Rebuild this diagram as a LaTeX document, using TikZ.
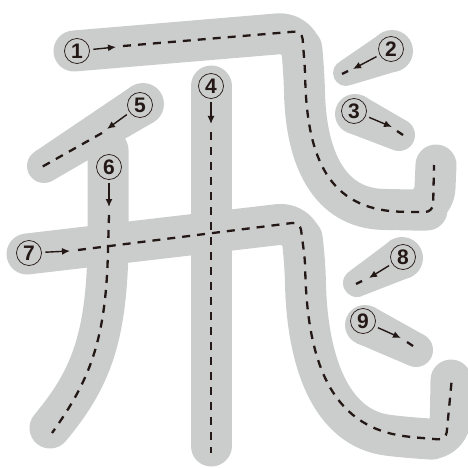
\documentclass[tikz,border=0pt]{standalone}
\usepackage{fontspec}
\setsansfont{Liberation Sans}
\usetikzlibrary{calc,arrows.meta}
\definecolor{strokegray}{RGB}{203, 204, 204}
\definecolor{inkdark}{RGB}{35, 24, 21}
\begin{document}
\begin{tikzpicture}[x=1pt, y=-1pt, line join=round,
        band/.style={draw=strokegray, line width=41pt, line cap=round, line join=round},
        guide/.style={draw=inkdark, line width=2.3pt, dash pattern=on 8pt off 7pt},
        num/.style={circle, draw=inkdark, line width=0.7pt, minimum size=25pt, inner sep=0pt,
            text=inkdark, font=\sffamily\bfseries\fontsize{21}{21}\selectfont},
        pointer/.style={draw=inkdark, line width=1.4pt, shorten <=3.5pt, -{Latex[length=8pt, width=7pt]}}]

    \useasboundingbox (0,0) rectangle (467,468);

    % --- szerokie pasy kresek (tło) ---
    \draw[band, rounded corners=22pt] (74,51) -- (300,32) -- (304,70)
        .. controls (306,160) and (330,208) .. (405,210) -- (434,210) -- (436,165);
    \draw[band] (211,86) -- (211,446);
    \draw[band] (108,150) -- (108,250) .. controls (106,340) and (90,380) .. (50,428);
    \draw[band, rounded corners=22pt] (27,254) -- (300,222) -- (305,260)
        .. controls (307,360) and (330,428) .. (410,438) -- (450,440) -- (451,380);

    % --- krótkie kreski zwężane: x1/y1/r1/x2/y2/r2 ---
    \foreach \ax/\ay/\ra/\bx/\by/\rb in {%
        392/51/21/346/73/13,
        355/114/20/399/135/16,
        143/104/21/44/166/17,
        402/258/21/357/283/14,
        365/325/20/416/350/17} {
        \coordinate (p) at (\ax,\ay);
        \coordinate (q) at (\bx,\by);
        \fill[strokegray] (p) circle (\ra pt);
        \fill[strokegray] (q) circle (\rb pt);
        \fill[strokegray] ($(p)!\ra pt!90:(q)$) -- ($(q)!\rb pt!-90:(p)$)
            -- ($(q)!\rb pt!90:(p)$) -- ($(p)!\ra pt!-90:(q)$) -- cycle;
    }

    % --- linie przerywane (tor kreski) ---
    \draw[guide, rounded corners=8pt] (123,46) -- (302,31) -- (305,70)
        .. controls (307,160) and (330,208) .. (405,212) -- (433,212) -- (434,165);
    \draw[guide] (348,71) -- (342,74);
    \draw[guide] (397,131) -- (403,135);
    \draw[guide] (211,132) -- (211,453);
    \draw[guide] (102,133) -- (40,168);
    \draw[guide] (109,215) -- (108,250) .. controls (106,340) and (90,380) .. (52,433);
    \draw[guide, rounded corners=8pt] (78,250) -- (300,222) -- (305,260)
        .. controls (307,360) and (330,425) .. (410,437) -- (446,440) -- (452,377);
    \draw[guide] (362,281) -- (356,284);
    \draw[guide] (407,342) -- (413,346);

    % --- numery kresek i strzałki kierunku ---
    \foreach \k/\nx/\ny/\ex/\ey in {%
        1/77/51/116/47, 2/391/49/353/69, 3/354/111/392/127,
        4/211/86/211/124, 5/140/105/107/129, 6/109/167/109/207,
        7/29/253/70/251, 8/403/257/369/278, 9/363/321/401/338} {
        \node[num] (n\k) at (\nx,\ny) {\k};
        \coordinate (e\k) at (\ex,\ey);
        \draw[pointer] (n\k) -- (e\k);
    }

\end{tikzpicture}
\end{document}
